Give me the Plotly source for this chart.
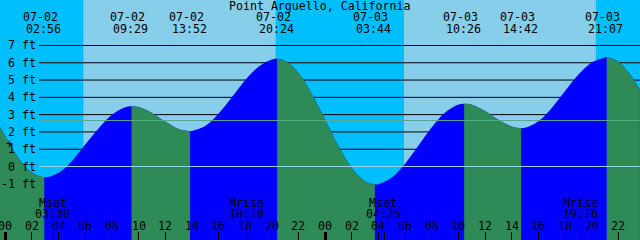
import plotly.graph_objects as go

WIDTH, HEIGHT = 640, 240
TITLE = "Point Arguello, California"
FONT = "DejaVu Sans Mono"
FS = 11.6

# tide curve: hours after 07-02 00:00, height in feet
curve_hours = [-0.39, 0, 1, 2, 2.93, 4, 5, 6, 7, 8, 9, 9.48, 10, 11, 12, 13, 13.87,
               14, 15, 16, 17, 18, 19, 20, 20.4, 21, 22, 23, 24, 25, 26, 27, 27.73,
               28, 29, 30, 31, 32, 33, 34, 34.43, 35, 36, 37, 38, 38.7, 39, 40, 41,
               42, 43, 44, 45, 45.12, 46, 47, 47.61]
curve_ft = [2.29, 1.75, 0.49, -0.35, -0.62, -0.36, 0.31, 1.27, 2.20, 2.99, 3.43, 3.49,
            3.44, 3.10, 2.60, 2.17, 2.04, 2.05, 2.34, 3.05, 4.00, 4.99, 5.77, 6.19, 6.23,
            6.11, 5.41, 4.20, 2.70, 1.18, -0.09, -0.86, -1.04, -1.02, -0.64, 0.16, 1.21,
            2.27, 3.12, 3.58, 3.63, 3.57, 3.21, 2.70, 2.31, 2.22, 2.24, 2.62, 3.39, 4.36,
            5.32, 6.02, 6.31, 6.32, 6.06, 5.19, 4.45]

# high / low tide events
event_dates = ["07-02", "07-02", "07-02", "07-02", "07-03", "07-03", "07-03", "07-03"]
event_times = ["02:56", "09:29", "13:52", "20:24", "03:44", "10:26", "14:42", "21:07"]
event_day = [0, 0, 0, 0, 1, 1, 1, 1]

# moon events
moon_names = ["Mset", "Mrise", "Mset", "Mrise"]
moon_times = ["03:38", "18:10", "04:25", "19:16"]
moon_day = [0, 0, 1, 1]

# sun (day shading)
sunrise_times = ["05:52", "05:55"]
sunset_times = ["20:17", "20:18"]
sun_day = [0, 1]

# axis ticks
hour_ticks = [0, 2, 4, 6, 8, 10, 12, 14, 16, 18, 20, 22, 24, 26, 28, 30, 32, 34,
              36, 38, 40, 42, 44, 46, 48]
hour_labels = ["00", "02", "04", "06", "08", "10", "12", "14", "16", "18", "20", "22",
               "00", "02", "04", "06", "08", "10", "12", "14", "16", "18", "20", "22", "00"]
midnight_ticks = [0, 24, 48]
ft_ticks = [-1, 0, 1, 2, 3, 4, 5, 6, 7]
ft_labels = ["-1 ft", "0 ft", "1 ft", "2 ft", "3 ft", "4 ft", "5 ft", "6 ft", "7 ft"]
grid_ft = [1, 2, 3, 4, 5, 6, 7]
msl_ft = 2.66
datum_ft = 0

NIGHT = "#00BFFF"
DAY = "#87CEEB"
RISE = "#0000FF"
FALL = "#2E8B57"

x_range = [-0.39, 47.62]
y_range = [-4.25, 9.63]


def hrs(t, day):
    h, m = t.split(":")
    return day * 24 + int(h) + int(m) / 60.0


def py(px):
    return 1 - px / HEIGHT


fig = go.Figure()

# whole water area (rising colour underlay)
fig.add_trace(go.Scatter(x=[curve_hours[0], curve_hours[-1]], y=[y_range[0] - 1] * 2,
                         mode="lines", line=dict(width=0), hoverinfo="skip", showlegend=False))
fig.add_trace(go.Scatter(x=curve_hours, y=curve_ft, mode="lines",
                         line=dict(width=0, shape="spline", color=RISE),
                         fill="tonexty", fillcolor=RISE, hoverinfo="skip", showlegend=False))

# split into segments at turning points
turns = [0]
for i in range(1, len(curve_ft) - 1):
    if (curve_ft[i] - curve_ft[i - 1]) * (curve_ft[i + 1] - curve_ft[i]) < 0:
        turns.append(i)
turns.append(len(curve_ft) - 1)
for a, b in zip(turns[:-1], turns[1:]):
    xs = curve_hours[a:b + 1]
    ys = curve_ft[a:b + 1]
    color = FALL if ys[-1] < ys[0] else RISE
    if color == RISE:
        continue
    fig.add_trace(go.Scatter(x=[xs[0], xs[-1]], y=[y_range[0] - 1] * 2, mode="lines",
                             line=dict(width=0), hoverinfo="skip", showlegend=False))
    fig.add_trace(go.Scatter(x=xs, y=ys, mode="lines",
                             line=dict(width=0, shape="spline", color=color),
                             fill="tonexty", fillcolor=color, hoverinfo="skip",
                             showlegend=False))

shapes = []
# day shading
for r, s, d in zip(sunrise_times, sunset_times, sun_day):
    shapes.append(dict(type="rect", xref="x", yref="paper", x0=hrs(r, d), x1=hrs(s, d),
                       y0=0, y1=1, fillcolor=DAY, line=dict(width=0), layer="below"))
# grid lines (behind water)
for g in grid_ft:
    shapes.append(dict(type="line", xref="paper", yref="y", x0=39 / WIDTH, x1=1,
                       y0=g, y1=g, line=dict(color="black", width=1), layer="below"))
# msl and datum lines (over everything)
shapes.append(dict(type="line", xref="paper", yref="y", x0=39 / WIDTH, x1=1, y0=msl_ft,
                   y1=msl_ft, line=dict(color="#55A98A", width=1), layer="above"))
shapes.append(dict(type="line", xref="paper", yref="y", x0=39 / WIDTH, x1=1, y0=datum_ft,
                   y1=datum_ft, line=dict(color="#9CD0E6", width=1), layer="above"))

ann = []
font = dict(family=FONT, size=FS, color="black")


def text(x, y, s, xref="x", yref="paper", xanchor="center", xshift=0):
    ann.append(dict(x=x, y=y, xref=xref, yref=yref, text=s, showarrow=False, font=font,
                    xanchor=xanchor, yanchor="middle", xshift=xshift,
                    borderpad=0, borderwidth=0))


text(319 / WIDTH, py(5.5), TITLE, xref="paper")
for d, t, day in zip(event_dates, event_times, event_day):
    x = hrs(t, day)
    text(x, py(17), d, xshift=-4)
    text(x, py(29), t, xshift=-1)
for n, t, day in zip(moon_names, moon_times, moon_day):
    x = hrs(t, day)
    text(x, py(202.5), n, xshift=-1)
    text(x, py(214), t, xshift=-1)
for h, lab in zip(hour_ticks, hour_labels):
    text(h, py(225.5), lab)
for v, lab in zip(ft_ticks, ft_labels):
    ann.append(dict(x=36 / WIDTH, y=v, xref="paper", yref="y", text=lab, showarrow=False,
                    font=font, xanchor="right", yanchor="middle", borderpad=0,
                    borderwidth=0))
text(9 / WIDTH, py(144), "+", xref="paper")

moon_hours = [hrs(t, d) for t, d in zip(moon_times, moon_day)]

fig.update_layout(
    width=WIDTH, height=HEIGHT, margin=dict(l=0, r=0, t=0, b=0),
    paper_bgcolor=NIGHT, plot_bgcolor=NIGHT, showlegend=False,
    shapes=shapes, annotations=ann,
    xaxis=dict(range=x_range, showgrid=False, zeroline=False, showline=False,
               tickvals=hour_ticks + moon_hours, ticks="inside", ticklen=8, tickwidth=1,
               tickcolor="black", showticklabels=False, fixedrange=True),
    xaxis2=dict(range=x_range, overlaying="x", anchor="y", side="bottom",
                showgrid=False, zeroline=False, showline=False, tickvals=midnight_ticks,
                ticks="inside", ticklen=8, tickwidth=3, tickcolor="black",
                showticklabels=False, fixedrange=True),
    yaxis=dict(range=y_range, visible=False, fixedrange=True),
)
# dummy trace to activate xaxis2
fig.add_trace(go.Scatter(x=[x_range[0]], y=[y_range[0] - 5], xaxis="x2", mode="markers",
                         marker=dict(size=0, opacity=0), hoverinfo="skip", showlegend=False))

fig.write_html("out.html", config=dict(displayModeBar=False))
